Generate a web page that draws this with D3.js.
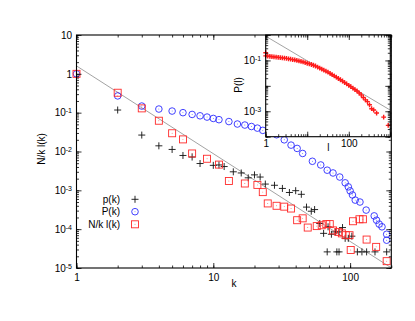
<!DOCTYPE html>
<html>
<head>
<meta charset="utf-8">
<script src="https://cdn.jsdelivr.net/npm/d3@7"></script>
<style>
  body { margin: 0; background: #fff; }
  svg { display: block; font-family: "Liberation Sans", Arial, sans-serif; }
</style>
</head>
<body>
<div id="chart"></div>
<script>
"use strict"

// ---- main plot data ----
// p(k): black crosses
const pK = [2, 3, 4, 5, 6, 7, 8, 10, 11, 12, 14, 16, 18, 20, 22, 24, 28, 32, 36, 40, 44, 48, 52, 55, 60, 64, 69, 73, 78, 83, 88, 92, 97, 103, 68, 80, 83, 113, 122, 132, 152, 185];
const pVal = [0.117, 0.0265, 0.014, 0.0113, 0.0079, 0.0072, 0.0049, 0.0044, 0.0045, 0.0041, 0.003, 0.0028, 0.0021, 0.0025, 0.0022, 0.00145, 0.00135, 0.00112, 0.00088, 0.00098, 0.00079, 0.00037, 0.00029, 0.00032, 0.00014, 0.000078, 0.000115, 0.000074, 0.000085, 0.000085, 0.00011, 0.000058, 0.000058, 0.000066, 0.000026, 0.000026, 0.000026, 0.000026, 0.000026, 0.000026, 0.000026, 0.000026];

// P(k): blue circles
const cumK = [1, 2, 3, 4, 5, 6, 7, 8, 9, 10, 11, 13, 15, 17, 19, 21, 23, 26, 29, 33, 37, 41, 45, 53, 61, 68, 75, 84, 92, 97, 100, 104, 109, 118, 131, 150, 156, 163, 171, 185, 185];
const cumVal = [1, 0.27, 0.148, 0.124, 0.11, 0.1, 0.09, 0.083, 0.077, 0.071, 0.066, 0.059, 0.051, 0.048, 0.044, 0.04, 0.035, 0.032, 0.027, 0.02, 0.0146, 0.012, 0.0089, 0.0056, 0.0045, 0.0033, 0.0028, 0.0022, 0.00156, 0.00123, 0.00097, 0.00076, 0.00056, 0.0005, 0.00031, 0.00022, 0.00017, 0.000135, 0.000115, 0.000074, 0.000052];

// N/k l(k): red squares
const lkK = [1, 2, 3, 4, 5, 6, 7, 9, 11, 13, 17, 21, 23, 25, 29, 33, 37, 41, 45, 49, 57, 62, 67, 71, 75, 82, 87, 93, 99, 101, 105, 117, 124, 132, 155, 185];
const lkVal = [1.0, 0.326, 0.129, 0.062, 0.0295, 0.0205, 0.0089, 0.0065, 0.0046, 0.00174, 0.0015, 0.00138, 0.0009, 0.00046, 0.0004, 0.00038, 0.00034, 0.00017, 0.00019, 0.00011, 0.00012, 0.000126, 0.000135, 0.000135, 0.000093, 0.000085, 0.000078, 0.00007, 0.00007, 0.000029, 0.00016, 0.00018, 0.00018, 0.000054, 0.000035, 0.000015];

// fitted power laws (gray lines): y = a * x^-g
const mainFit = { a: 1.6, g: 2.26 };
const insetFit = { a: 0.9, g: 0.97 };

// ---- inset data: P(l), red crosses ----
const insetL = [1, 1, 1.12, 1.26, 1.41, 1.58, 1.78, 2, 2.24, 2.51, 2.82, 3.16, 3.55, 3.98, 4.47, 5.01, 5.62, 6.31, 7.08, 7.94, 8.91, 10, 11.2, 12.6, 14.1, 15.8, 17.8, 20, 22.4, 25.1, 28.2, 31.6, 35.5, 39.8, 44.7, 50.1, 56.2, 63.1, 70.8, 79.4, 89.1, 100, 112, 126, 141, 158, 178, 200, 224, 251, 282, 316, 355, 398, 468, 692, 891];
const insetP = [0.2, 0.151, 0.148, 0.145, 0.141, 0.138, 0.135, 0.132, 0.129, 0.126, 0.123, 0.12, 0.116, 0.112, 0.108, 0.105, 0.1, 0.0955, 0.0912, 0.0871, 0.0822, 0.0776, 0.0733, 0.0692, 0.0646, 0.0603, 0.055, 0.0501, 0.0457, 0.0417, 0.038, 0.0347, 0.0309, 0.0275, 0.0245, 0.0219, 0.0195, 0.0174, 0.0155, 0.0135, 0.012, 0.0105, 0.0093, 0.0081, 0.0071, 0.0063, 0.0052, 0.0044, 0.0035, 0.0028, 0.0024, 0.0018, 0.00126, 0.00112, 0.00085, 0.00059, 0.00028];

// ---- tick labels ----
const mainXTicks = [1, 10, 100];
const mainXLabels = ["1", "10", "100"];
const mainYTicks = [10, 1, 0.1, 0.01, 0.001, 0.0001, 0.00001];
const mainYLabels = [["10", ""], ["1", ""], ["10", "-1"], ["10", "-2"], ["10", "-3"], ["10", "-4"], ["10", "-5"]];
const insetXTicks = [1, 10, 100, 1000];
const insetXLabels = ["1", "", "100", ""];
const insetYTicks = [1, 0.1, 0.01, 0.001, 0.0001];
const insetYLabels = [["", ""], ["10", "-1"], ["", ""], ["10", "-3"], ["", ""]];

const legendNames = ["p(k)", "P(k)", "N/k l(k)"];

//------------------------SETUP------------------------//
const W = 415, H = 321;
const svg = d3.select("#chart").append("svg")
    .attr("width", W)
    .attr("height", H);

const main = { left: 76.5, top: 35, right: 391.3, bottom: 268 };
const ins = { left: 265.7, top: 35, right: 390.3, bottom: 136.7 };

const x = d3.scaleLog().domain([1, 200]).range([main.left, main.right]);
const y = d3.scaleLog().domain([1e-5, 10]).range([main.bottom, main.top]);
const xi = d3.scaleLog().domain([1, 1000]).range([ins.left, ins.right]);
const yi = d3.scaleLog().domain([1e-4, 1]).range([ins.bottom, ins.top]);

// label writer: plain or base + superscript
const writeLabel = (sel, lab) => {
    sel.text(null);
    const parts = Array.isArray(lab) ? lab : [lab, ""];
    sel.append("tspan").text(parts[0]);
    if (parts[1]) {
        sel.append("tspan")
            .attr("dy", "-0.45em")
            .style("font-size", "7px")
            .text(parts[1]);
    }
};

// draws minor + major ticks (inward) on all four sides of a frame
const frameAxes = (g, xs, ys, box, xTicks, xLabels, yTicks, yLabels, opts) => {
    const minor = 2.5, major = 5;
    const put = (axis, tx) => {
        const a = g.append("g").attr("transform", tx).call(axis);
        a.select(".domain").remove();
        a.selectAll("line").attr("stroke", "#000").attr("stroke-width", 0.8);
        return a;
    };
    // minor ticks
    put(d3.axisBottom(xs).tickValues(xs.ticks()).tickFormat("").tickSize(-minor).tickSizeOuter(0), `translate(0,${box.bottom})`);
    put(d3.axisTop(xs).tickValues(xs.ticks()).tickFormat("").tickSize(-minor).tickSizeOuter(0), `translate(0,${box.top})`);
    put(d3.axisLeft(ys).tickValues(ys.ticks()).tickFormat("").tickSize(-minor).tickSizeOuter(0), `translate(${box.left},0)`);
    put(d3.axisRight(ys).tickValues(ys.ticks()).tickFormat("").tickSize(-minor).tickSizeOuter(0), `translate(${box.right},0)`);
    // major ticks
    const bx = put(d3.axisBottom(xs).tickValues(xTicks).tickSize(-major).tickSizeOuter(0).tickPadding(opts.xPad), `translate(0,${box.bottom})`);
    put(d3.axisTop(xs).tickValues(xTicks).tickFormat("").tickSize(-major).tickSizeOuter(0), `translate(0,${box.top})`);
    const ly = put(d3.axisLeft(ys).tickValues(yTicks).tickSize(-major).tickSizeOuter(0).tickPadding(opts.yPad), `translate(${box.left},0)`);
    put(d3.axisRight(ys).tickValues(yTicks).tickFormat("").tickSize(-major).tickSizeOuter(0), `translate(${box.right},0)`);

    bx.selectAll("text")
        .attr("fill", "#000")
        .style("font-size", "10px")
        .style("font-family", "inherit")
        .each(function (d, i) { writeLabel(d3.select(this), xLabels[i]); });
    ly.selectAll("text")
        .attr("fill", "#000")
        .style("font-size", "10px")
        .style("font-family", "inherit")
        .each(function (d, i) { writeLabel(d3.select(this), yLabels[i]); });

    g.append("rect")
        .attr("x", box.left).attr("y", box.top)
        .attr("width", box.right - box.left).attr("height", box.bottom - box.top)
        .attr("fill", "none").attr("stroke", "#000").attr("stroke-width", 1.1);
};

// marker helpers
const plusPath = (cx, cy, s) => `M${cx - s},${cy}H${cx + s}M${cx},${cy - s}V${cy + s}`;

//------------------------MAIN PLOT------------------------//
const gMain = svg.append("g");

// fit line
const fitK = x.domain();
gMain.append("path")
    .datum(fitK)
    .attr("fill", "none")
    .attr("stroke", "#8c8c8c")
    .attr("stroke-width", 0.8)
    .attr("d", d3.line().x(d => x(d)).y(d => y(mainFit.a * Math.pow(d, -mainFit.g))));

// p(k)
gMain.append("g").selectAll("path")
    .data(d3.zip(pK, pVal))
    .join("path")
    .attr("d", d => plusPath(x(d[0]), y(d[1]), 3.5))
    .attr("stroke", "#111")
    .attr("stroke-width", 0.9);

// P(k)
const circ = gMain.append("g").selectAll("g")
    .data(d3.zip(cumK, cumVal))
    .join("g")
    .attr("transform", d => `translate(${x(d[0])},${y(d[1])})`);
circ.append("circle").attr("r", 3.3).attr("fill", "none").attr("stroke", "#2b2bff").attr("stroke-width", 0.9);
circ.append("circle").attr("r", 0.45).attr("fill", "#2b2bff");

// N/k l(k)
const sq = gMain.append("g").selectAll("g")
    .data(d3.zip(lkK, lkVal))
    .join("g")
    .attr("transform", d => `translate(${x(d[0])},${y(d[1])})`);
sq.append("rect").attr("x", -3.5).attr("y", -3.5).attr("width", 7).attr("height", 7)
    .attr("fill", "none").attr("stroke", "#ff2a2a").attr("stroke-width", 0.9);
sq.append("circle").attr("r", 0.45).attr("fill", "#ff2a2a");

frameAxes(gMain, x, y, main, mainXTicks, mainXLabels, mainYTicks, mainYLabels, { xPad: 6, yPad: 4.5 });

// axis titles
gMain.append("text")
    .attr("x", 234).attr("y", 286.5)
    .attr("text-anchor", "middle")
    .style("font-size", "10px")
    .text("k");
gMain.append("text")
    .attr("transform", "translate(45,149) rotate(-90)")
    .attr("text-anchor", "middle")
    .style("font-size", "10px")
    .text("N/k l(k)");

// legend
const legY = [199.3, 211.7, 224.3];
const leg = gMain.append("g");
leg.selectAll("text")
    .data(legendNames)
    .join("text")
    .attr("x", 120)
    .attr("y", (d, i) => legY[i])
    .attr("dy", "0.35em")
    .attr("text-anchor", "end")
    .style("font-size", "10px")
    .text(d => d);
leg.append("path").attr("d", plusPath(135, legY[0], 3.5)).attr("stroke", "#111").attr("stroke-width", 0.9);
leg.append("circle").attr("cx", 135).attr("cy", legY[1]).attr("r", 3.3).attr("fill", "none").attr("stroke", "#2b2bff").attr("stroke-width", 0.9);
leg.append("circle").attr("cx", 135).attr("cy", legY[1]).attr("r", 0.45).attr("fill", "#2b2bff");
leg.append("rect").attr("x", 131.5).attr("y", legY[2] - 3.5).attr("width", 7).attr("height", 7)
    .attr("fill", "none").attr("stroke", "#ff2a2a").attr("stroke-width", 0.9);
leg.append("circle").attr("cx", 135).attr("cy", legY[2]).attr("r", 0.45).attr("fill", "#ff2a2a");

//------------------------INSET------------------------//
const gIns = svg.append("g");
gIns.append("rect")
    .attr("x", ins.left).attr("y", ins.top)
    .attr("width", ins.right - ins.left).attr("height", ins.bottom - ins.top)
    .attr("fill", "#fff");

gIns.append("path")
    .datum(xi.domain())
    .attr("fill", "none")
    .attr("stroke", "#8c8c8c")
    .attr("stroke-width", 0.8)
    .attr("d", d3.line().x(d => xi(d)).y(d => yi(insetFit.a * Math.pow(d, -insetFit.g))));

gIns.append("g").selectAll("path")
    .data(d3.zip(insetL, insetP))
    .join("path")
    .attr("d", d => plusPath(xi(d[0]), yi(d[1]), 2.4))
    .attr("stroke", "#ff1a1a")
    .attr("stroke-width", 1.4);

frameAxes(gIns, xi, yi, ins, insetXTicks, insetXLabels, insetYTicks, insetYLabels, { xPad: 3.5, yPad: 4.5 });

gIns.append("text")
    .attr("x", 328.3).attr("y", 150.5)
    .attr("text-anchor", "middle")
    .style("font-size", "10px")
    .text("l");
gIns.append("text")
    .attr("transform", "translate(241.5,85) rotate(-90)")
    .attr("text-anchor", "middle")
    .style("font-size", "10px")
    .text("P(l)");
</script>
</body>
</html>
